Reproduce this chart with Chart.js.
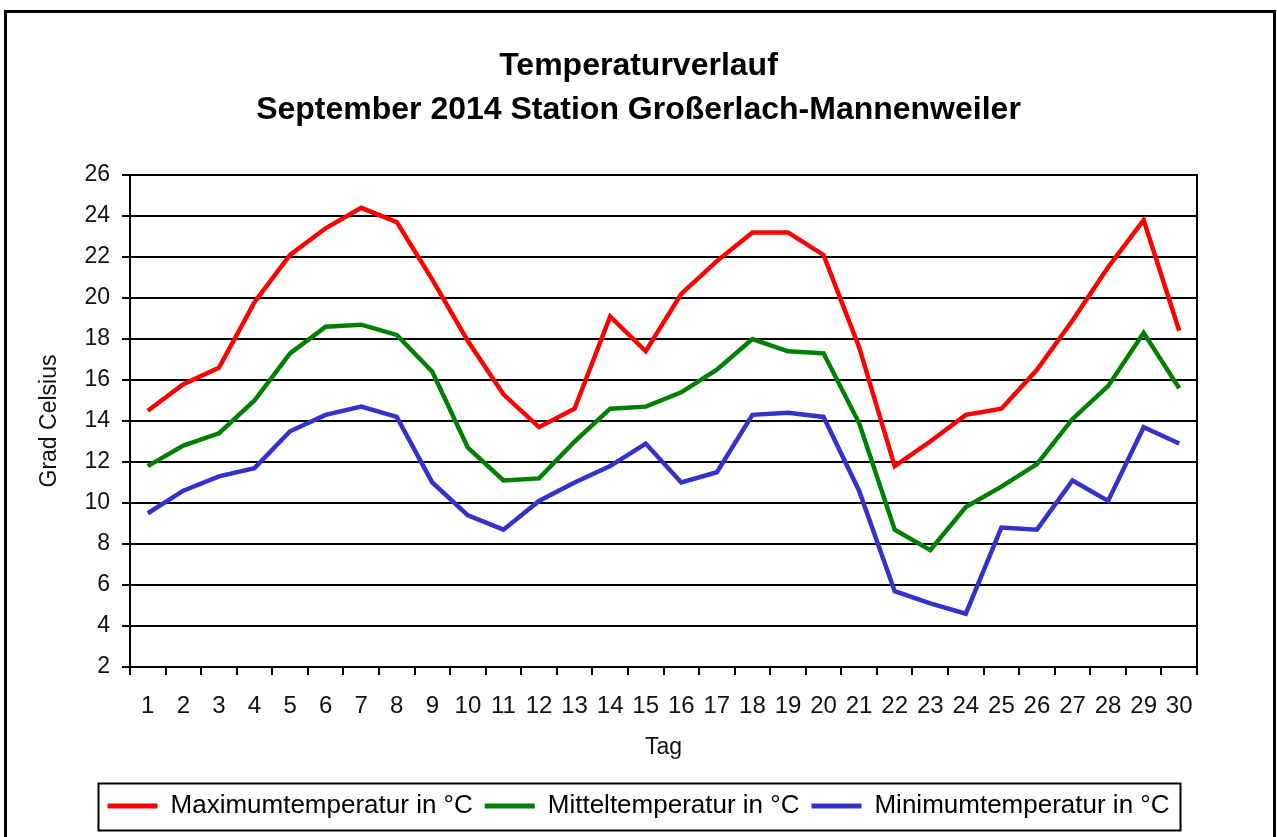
<!DOCTYPE html>
<html>
<head>
<meta charset="utf-8">
<script src="https://cdn.jsdelivr.net/npm/chart.js@4/dist/chart.umd.min.js"></script>
<style>
  html, body { margin: 0; padding: 0; background: #fff; }
  #wrap { width: 1277px; height: 837px; }
</style>
</head>
<body>
<div id="wrap"><canvas id="c" width="1277" height="837"></canvas></div>
<script>
const days = ['1','2','3','4','5','6','7','8','9','10','11','12','13','14','15','16','17','18','19','20','21','22','23','24','25','26','27','28','29','30'];
const maxTemp  = [14.5, 15.8, 16.6, 19.8, 22.1, 23.4, 24.4, 23.7, 20.9, 17.9, 15.3, 13.7, 14.6, 19.1, 17.4, 20.2, 21.8, 23.2, 23.2, 22.1, 17.6, 11.8, 13.0, 14.3, 14.6, 16.5, 18.9, 21.5, 23.8, 18.4];
const meanTemp = [11.8, 12.8, 13.4, 15.0, 17.3, 18.6, 18.7, 18.2, 16.4, 12.7, 11.1, 11.2, 13.0, 14.6, 14.7, 15.4, 16.5, 18.0, 17.4, 17.3, 13.9, 8.7, 7.7, 9.8, 10.8, 11.9, 14.1, 15.7, 18.3, 15.6];
const minTemp  = [9.5, 10.6, 11.3, 11.7, 13.5, 14.3, 14.7, 14.2, 11.0, 9.4, 8.7, 10.1, 11.0, 11.8, 12.9, 11.0, 11.5, 14.3, 14.4, 14.2, 10.6, 5.7, 5.1, 4.6, 8.8, 8.7, 11.1, 10.1, 13.7, 12.9];
const seriesNames = ['Maximumtemperatur in °C', 'Mitteltemperatur in °C', 'Minimumtemperatur in °C'];
const titleLines = ['Temperaturverlauf', 'September 2014 Station Großerlach-Mannenweiler'];
const yMin = 2, yMax = 26, yStep = 2;

const FONT = "'Liberation Sans', Arial, Helvetica, sans-serif";

const framePlugin = {
  id: 'framePlugin',
  afterDraw(chart) {
    const ctx = chart.ctx;
    const a = chart.chartArea;
    ctx.save();
    ctx.strokeStyle = '#000';
    ctx.lineWidth = 2;
    ctx.strokeRect(a.left, a.top, a.right - a.left, a.bottom - a.top);
    ctx.lineWidth = 3;
    ctx.strokeRect(5.5, 11.5, 1269, 840);
    const hb = chart.legend && chart.legend.legendHitBoxes;
    if (hb && hb.length) {
      let l = Infinity, r = -Infinity, t = Infinity, b = -Infinity;
      hb.forEach(h => { l = Math.min(l, h.left); r = Math.max(r, h.left + h.width); t = Math.min(t, h.top); b = Math.max(b, h.top + h.height); });
      ctx.lineWidth = 2;
      ctx.strokeRect(Math.round(l - 10) + 0.5, Math.round(t - 10) + 0.5, Math.round(r - l + 20), Math.round(b - t + 21));
    }
    ctx.restore();
  }
};

new Chart(document.getElementById('c'), {
  type: 'line',
  data: {
    labels: days,
    datasets: [
      { label: seriesNames[0], data: maxTemp, borderColor: '#ff0000', backgroundColor: '#ff0000' },
      { label: seriesNames[1], data: meanTemp, borderColor: '#008000', backgroundColor: '#008000' },
      { label: seriesNames[2], data: minTemp, borderColor: '#3333cc', backgroundColor: '#3333cc' }
    ]
  },
  options: {
    responsive: false,
    animation: false,
    devicePixelRatio: 1,
    layout: { padding: { left: 0, right: 0, top: 0, bottom: 8 } },
    elements: {
      line: { borderWidth: 4.5, tension: 0 },
      point: { radius: 0, hoverRadius: 0 }
    },
    plugins: {
      title: {
        display: true,
        text: titleLines,
        color: '#000',
        font: { family: FONT, size: 32, weight: 'bold', lineHeight: 1.375 },
        padding: { top: 44, bottom: 43 }
      },
      legend: {
        display: true,
        position: 'bottom',
        labels: {
          color: '#000',
          font: { family: FONT, size: 26 },
          boxWidth: 50,
          boxHeight: 5,
          padding: 12,
          generateLabels(chart) {
            return chart.data.datasets.map((ds, i) => ({
              text: ds.label,
              fillStyle: ds.borderColor,
              strokeStyle: ds.borderColor,
              lineWidth: 0,
              hidden: false,
              datasetIndex: i,
              fontColor: '#000'
            }));
          }
        }
      },
      tooltip: { enabled: false }
    },
    scales: {
      x: {
        type: 'category',
        offset: true,
        grid: { display: true, offset: true, drawOnChartArea: false, drawTicks: true, tickLength: 8, color: '#000', lineWidth: 2 },
        border: { display: true, color: '#000', width: 2 },
        ticks: { color: '#111', font: { family: FONT, size: 24 }, padding: 17, maxRotation: 0, autoSkip: false },
        title: { display: true, text: 'Tag', color: '#111', font: { family: FONT, size: 23 }, padding: { top: 0, bottom: 20 } },
        afterFit(scale) { scale.height = 114; }
      },
      y: {
        min: yMin,
        max: yMax,
        grid: { display: true, drawOnChartArea: true, drawTicks: true, tickLength: 8, color: '#000', lineWidth: 2 },
        border: { display: true, color: '#000', width: 2 },
        ticks: { stepSize: yStep, color: '#111', font: { family: FONT, size: 23 }, padding: 12 },
        title: { display: true, text: 'Grad Celsius', color: '#111', font: { family: FONT, size: 23 }, padding: { top: 36, bottom: 0 } },
        afterFit(scale) { scale.width = 130; }
      },
      yRight: {
        position: 'right',
        min: yMin,
        max: yMax,
        display: true,
        grid: { display: false, drawTicks: false },
        border: { display: false },
        ticks: { display: false },
        afterFit(scale) { scale.width = 80; }
      }
    }
  },
  plugins: [framePlugin]
});
</script>
</body>
</html>
